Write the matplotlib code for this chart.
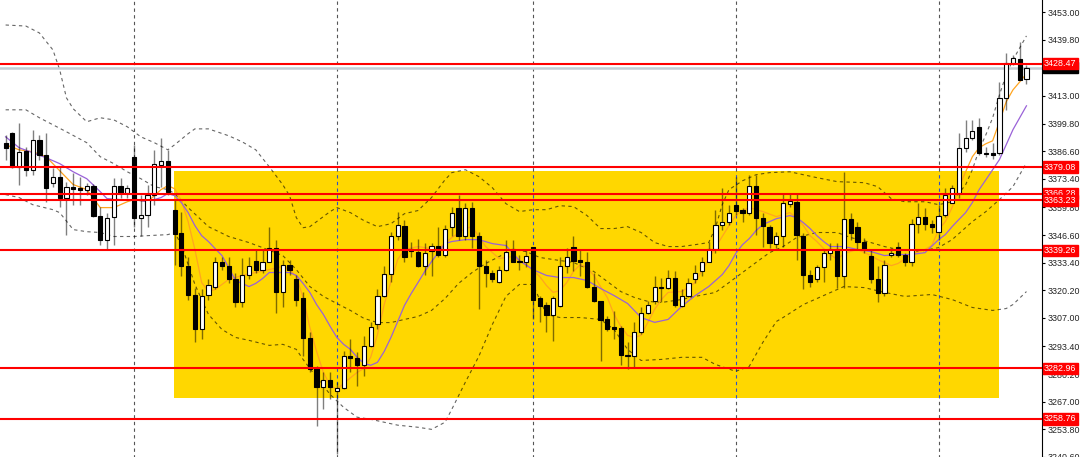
import matplotlib
matplotlib.use("Agg")
import matplotlib.pyplot as plt
from matplotlib.patches import Rectangle
import matplotlib.transforms as mtransforms
import numpy as np

plt.rcParams["font.family"] = ["Liberation Sans", "DejaVu Sans"]

############################## candle data (H4) ###############################
opens = [3390.7, 3395.4, 3379.2, 3386.9, 3377.8, 3392.1, 3385.0, 3371.6, 3374.5, 3364.5,
         3369.7, 3369.2, 3368.3, 3370.2, 3355.9, 3344.4, 3355.4, 3370.2, 3366.8, 3384.0,
         3354.9, 3356.3, 3365.9, 3380.2, 3382.1, 3358.7, 3347.8, 3332.0, 3318.2, 3301.5,
         3318.2, 3322.0, 3333.9, 3331.6, 3325.4, 3314.4, 3327.7, 3334.4, 3330.1, 3333.9,
         3340.6, 3319.2, 3332.5, 3325.4, 3316.3, 3297.2, 3282.9, 3273.9, 3277.2, 3272.0,
         3273.4, 3288.7, 3287.7, 3284.4, 3293.4, 3303.9, 3317.3, 3328.2, 3345.9, 3351.1,
         3340.1, 3338.7, 3331.6, 3339.2, 3341.6, 3337.3, 3350.2, 3359.7, 3345.9, 3359.7,
         3345.9, 3332.0, 3328.7, 3324.4, 3330.1, 3339.7, 3334.4, 3333.5, 3341.1, 3316.3,
         3313.0, 3308.2, 3312.5, 3332.0, 3341.1, 3334.9, 3333.9, 3322.0, 3314.9, 3306.3,
         3302.5, 3302.0, 3289.1, 3288.7, 3300.1, 3309.6, 3314.9, 3322.0, 3321.1, 3326.3,
         3312.5, 3317.3, 3325.8, 3329.2, 3333.9, 3339.7, 3351.6, 3353.0, 3361.1, 3358.7,
         3357.3, 3370.2, 3354.9, 3350.6, 3342.5, 3346.3, 3361.6, 3362.5, 3346.3, 3327.7,
         3325.8, 3331.1, 3338.2, 3339.7, 3326.8, 3354.4, 3350.6, 3343.5, 3336.8, 3325.4,
         3318.7, 3337.3, 3341.1, 3337.3, 3333.5, 3352.1, 3355.4, 3352.1, 3348.2, 3356.3,
         3362.1, 3366.8, 3388.3, 3393.1, 3398.3, 3385.9, 3385.9, 3385.9, 3412.1, 3428.8,
         3430.7, 3421.2]
highs = [3394.5, 3395.9, 3400.2, 3388.8, 3396.9, 3394.5, 3395.4, 3378.8, 3379.2, 3372.1,
         3376.4, 3374.5, 3371.6, 3371.1, 3360.2, 3357.3, 3374.0, 3374.0, 3370.7, 3389.7,
         3365.9, 3370.7, 3387.3, 3393.1, 3387.3, 3363.5, 3357.8, 3336.3, 3321.5, 3320.6,
         3325.4, 3336.3, 3335.9, 3336.3, 3328.7, 3335.4, 3336.3, 3339.7, 3339.7, 3350.2,
         3344.4, 3334.9, 3334.9, 3327.7, 3319.6, 3300.1, 3283.9, 3281.0, 3281.0, 3276.3,
         3291.0, 3296.8, 3290.6, 3298.2, 3304.9, 3320.6, 3331.6, 3348.2, 3357.8, 3354.0,
         3343.5, 3344.9, 3343.0, 3343.0, 3350.6, 3351.6, 3360.2, 3365.9, 3362.1, 3362.5,
         3348.2, 3334.9, 3329.7, 3331.6, 3344.4, 3344.4, 3337.3, 3339.7, 3341.1, 3317.3,
         3314.4, 3317.3, 3335.9, 3340.6, 3345.9, 3339.7, 3338.7, 3328.7, 3314.9, 3307.7,
         3310.1, 3303.0, 3295.3, 3304.9, 3312.0, 3314.9, 3326.8, 3326.3, 3330.1, 3329.2,
         3320.6, 3326.3, 3332.5, 3336.3, 3343.5, 3358.7, 3369.2, 3361.1, 3374.5, 3359.7,
         3375.4, 3375.4, 3357.3, 3351.6, 3348.2, 3366.8, 3366.8, 3366.8, 3347.8, 3330.1,
         3332.5, 3339.7, 3343.0, 3343.0, 3376.8, 3357.3, 3353.0, 3345.4, 3339.7, 3331.6,
         3334.9, 3340.6, 3343.5, 3338.2, 3354.4, 3362.1, 3359.7, 3354.0, 3361.1, 3369.2,
         3370.7, 3395.4, 3401.6, 3401.6, 3402.6, 3388.8, 3390.7, 3419.7, 3433.6, 3432.6,
         3438.8, 3427.9]
lows = [3382.6, 3378.8, 3370.7, 3374.9, 3375.4, 3382.6, 3362.5, 3369.7, 3360.2, 3346.8,
        3361.1, 3361.1, 3365.9, 3355.4, 3342.0, 3339.7, 3342.0, 3364.5, 3364.5, 3350.6,
        3345.9, 3350.6, 3361.1, 3369.7, 3365.9, 3332.5, 3326.8, 3315.8, 3295.3, 3296.8,
        3315.8, 3320.6, 3330.1, 3323.9, 3312.0, 3312.0, 3325.4, 3328.7, 3328.7, 3333.5,
        3309.6, 3312.0, 3327.7, 3312.5, 3288.7, 3281.0, 3255.3, 3263.4, 3268.2, 3241.9,
        3272.9, 3281.0, 3274.4, 3279.1, 3292.9, 3301.5, 3316.8, 3324.4, 3344.4, 3333.9,
        3336.3, 3331.1, 3327.7, 3326.8, 3336.3, 3336.3, 3345.9, 3344.4, 3344.4, 3340.6,
        3311.1, 3322.0, 3324.4, 3323.5, 3329.2, 3333.5, 3330.1, 3331.1, 3306.3, 3304.9,
        3300.1, 3295.8, 3312.0, 3328.7, 3329.2, 3326.8, 3321.5, 3314.4, 3286.3, 3300.6,
        3296.8, 3284.4, 3282.5, 3283.4, 3299.1, 3308.7, 3313.9, 3314.4, 3320.6, 3312.0,
        3312.0, 3316.8, 3323.9, 3326.8, 3333.5, 3338.2, 3349.2, 3351.6, 3356.3, 3353.0,
        3356.3, 3346.8, 3341.1, 3340.6, 3340.6, 3341.1, 3360.2, 3334.9, 3320.6, 3322.0,
        3324.4, 3324.4, 3334.9, 3321.5, 3321.5, 3344.4, 3339.7, 3338.2, 3323.9, 3314.4,
        3317.3, 3335.9, 3335.9, 3331.6, 3331.6, 3347.8, 3349.2, 3347.8, 3344.4, 3355.4,
        3362.1, 3364.5, 3386.4, 3392.1, 3385.0, 3384.0, 3383.0, 3385.0, 3406.4, 3427.9,
        3420.7, 3418.8]
closes = [3388.3, 3379.2, 3386.4, 3377.8, 3392.1, 3385.0, 3369.2, 3374.5, 3364.5, 3369.7,
          3368.7, 3368.3, 3370.2, 3355.9, 3344.4, 3354.9, 3370.2, 3366.8, 3369.2, 3354.9,
          3356.3, 3365.9, 3380.7, 3382.1, 3367.3, 3347.3, 3331.6, 3318.2, 3301.5, 3317.7,
          3322.5, 3333.9, 3331.6, 3325.4, 3314.4, 3327.7, 3331.6, 3330.1, 3333.9, 3340.6,
          3319.2, 3332.5, 3330.1, 3315.8, 3297.2, 3282.5, 3273.9, 3277.2, 3273.9, 3273.4,
          3288.7, 3287.7, 3284.4, 3293.4, 3302.5, 3317.3, 3328.2, 3345.9, 3351.6, 3336.3,
          3339.2, 3331.6, 3338.2, 3341.6, 3337.3, 3349.7, 3357.3, 3345.9, 3359.7, 3345.9,
          3331.6, 3328.7, 3325.8, 3330.1, 3338.7, 3333.9, 3333.5, 3336.8, 3315.8, 3312.5,
          3308.2, 3316.3, 3332.0, 3335.9, 3334.4, 3333.5, 3322.0, 3314.9, 3305.8, 3301.5,
          3301.5, 3289.1, 3288.7, 3300.1, 3309.6, 3313.4, 3322.0, 3321.5, 3326.3, 3313.4,
          3317.3, 3323.9, 3328.7, 3333.9, 3339.7, 3351.6, 3353.0, 3357.3, 3358.3, 3357.3,
          3370.2, 3354.9, 3351.1, 3343.0, 3346.3, 3362.1, 3363.0, 3346.8, 3327.7, 3324.4,
          3331.1, 3338.2, 3340.1, 3326.8, 3354.4, 3347.8, 3343.5, 3339.7, 3325.4, 3318.7,
          3332.5, 3338.2, 3337.3, 3333.5, 3352.1, 3355.4, 3352.1, 3350.6, 3355.9, 3365.9,
          3369.2, 3388.3, 3393.1, 3396.4, 3385.9, 3385.4, 3385.0, 3412.1, 3428.8, 3431.2,
          3420.7, 3426.4]

# moving averages (bar index, price)
fast_idx = [0, 2, 4, 6, 8, 10, 12, 14, 16, 18, 19, 21, 22, 23, 24, 25, 26, 27, 28, 29,
            30, 31, 33, 35, 37, 39, 41, 42, 43, 44, 45, 46, 47, 48, 49, 50, 52, 53, 54, 55,
            56, 57, 58, 59, 61, 63, 64, 66, 68, 69, 70, 71, 73, 75, 77, 78, 79, 80, 81, 82,
            83, 84, 85, 86, 87, 88, 89, 90, 91, 92, 93, 94, 95, 96, 97, 98, 100, 102, 103, 104,
            105, 106, 107, 108, 109, 110, 112, 114, 116, 117, 118, 119, 120, 121, 122, 123, 124, 126, 128, 129,
            131, 132, 134, 136, 137, 138, 139, 140, 141, 142, 143, 144, 145, 146, 147, 148, 149, 150, 151]
fast_ma = [3389.7, 3387.3, 3386.4, 3384.0, 3377.3, 3370.7, 3368.3, 3359.7, 3359.7, 3362.5,
           3363.5, 3362.5, 3365.4, 3368.3, 3370.2, 3368.7, 3363.0, 3353.0, 3339.7, 3323.9,
           3319.6, 3320.6, 3325.4, 3327.3, 3328.7, 3330.1, 3331.6, 3330.1, 3326.8, 3316.8,
           3302.5, 3291.0, 3281.0, 3274.8, 3272.9, 3275.8, 3281.0, 3282.9, 3288.2, 3299.1,
           3313.4, 3324.4, 3334.9, 3339.7, 3341.1, 3340.1, 3340.1, 3345.4, 3349.7, 3350.6,
           3345.9, 3341.1, 3335.4, 3336.3, 3332.5, 3329.7, 3326.8, 3322.5, 3319.2, 3320.1,
           3323.9, 3329.2, 3332.5, 3331.1, 3327.3, 3322.0, 3316.8, 3308.7, 3303.0, 3298.7,
           3297.7, 3298.7, 3304.9, 3311.1, 3315.8, 3319.2, 3319.6, 3323.9, 3329.7, 3334.9,
           3340.6, 3345.9, 3351.1, 3355.9, 3358.3, 3359.7, 3357.8, 3355.4, 3357.3, 3354.9,
           3351.1, 3346.3, 3343.5, 3340.1, 3337.3, 3334.9, 3337.8, 3339.7, 3336.8, 3334.9,
           3332.0, 3333.0, 3337.3, 3339.7, 3341.6, 3349.2, 3353.0, 3359.7, 3369.2, 3376.8,
           3384.0, 3388.3, 3390.2, 3391.6, 3400.7, 3410.2, 3415.9, 3419.7, 3423.6]
slow_idx = [0, 2, 4, 6, 8, 10, 12, 14, 15, 17, 19, 21, 23, 24, 25, 26, 27, 28, 29, 30,
            31, 32, 33, 34, 35, 36, 37, 38, 39, 41, 42, 43, 44, 45, 46, 47, 48, 49, 50, 51,
            52, 53, 54, 55, 56, 57, 58, 59, 60, 61, 62, 63, 64, 65, 66, 68, 70, 72, 74, 76,
            78, 80, 82, 84, 86, 88, 90, 92, 94, 96, 98, 100, 102, 104, 106, 107, 108, 109, 110, 111,
            112, 114, 116, 117, 118, 119, 120, 121, 122, 124, 126, 128, 130, 132, 134, 136, 138, 139, 140, 141,
            142, 143, 144, 145, 146, 147, 148, 149, 150, 151]
slow_ma = [3393.5, 3388.3, 3385.9, 3383.5, 3380.7, 3376.8, 3373.5, 3367.3, 3364.0, 3363.5,
           3363.5, 3362.5, 3364.5, 3366.4, 3365.4, 3362.1, 3357.3, 3351.1, 3346.3, 3343.5,
           3340.1, 3336.8, 3331.1, 3324.9, 3323.5, 3322.0, 3323.5, 3325.8, 3328.7, 3328.7,
           3328.7, 3327.3, 3323.5, 3319.2, 3313.4, 3308.7, 3303.0, 3297.7, 3294.4, 3292.0,
           3288.2, 3285.3, 3284.4, 3285.8, 3291.0, 3297.7, 3305.3, 3313.0, 3318.7, 3323.9,
           3329.2, 3333.9, 3338.2, 3342.5, 3343.5, 3344.4, 3344.4, 3342.5, 3341.6, 3334.4,
           3330.1, 3327.3, 3326.3, 3326.3, 3324.9, 3321.1, 3317.7, 3313.9, 3307.2, 3304.9,
           3306.3, 3312.5, 3317.7, 3322.0, 3327.7, 3332.0, 3337.8, 3342.0, 3344.9, 3348.7,
           3351.6, 3354.4, 3355.9, 3354.9, 3352.5, 3349.7, 3346.3, 3343.5, 3341.1, 3341.1,
           3339.7, 3338.7, 3336.8, 3337.3, 3337.3, 3338.2, 3344.4, 3346.8, 3350.6, 3354.0,
           3357.3, 3362.1, 3368.3, 3373.0, 3377.8, 3382.6, 3389.7, 3396.9, 3402.6, 3408.3]

# bollinger-style envelope (upper / middle / lower)
bb_up_idx = [0, 3, 5, 7, 8, 9, 10, 12, 14, 16, 18, 20, 22, 24, 25, 27, 28, 30, 33, 35,
             37, 39, 41, 42, 43, 44, 45, 46, 48, 49, 51, 53, 55, 57, 59, 61, 63, 65, 66, 68,
             70, 72, 74, 76, 78, 80, 82, 84, 86, 88, 90, 92, 94, 96, 98, 100, 102, 104, 105, 106,
             107, 109, 111, 113, 116, 120, 123, 127, 129, 131, 133, 136, 138, 140, 142, 143, 144, 145, 146, 147,
             148, 149, 151]
bb_up = [3446.9, 3446.4, 3443.1, 3435.0, 3425.5, 3412.1, 3406.9, 3400.7, 3402.6, 3401.6,
         3398.3, 3393.5, 3390.7, 3387.3, 3389.7, 3395.0, 3397.3, 3397.3, 3394.0, 3391.1,
         3387.3, 3379.2, 3370.6, 3365.4, 3354.9, 3350.1, 3350.6, 3353.0, 3357.8, 3359.7,
         3357.3, 3353.5, 3350.6, 3352.0, 3356.8, 3358.3, 3364.5, 3373.0, 3376.4, 3377.8,
         3374.5, 3369.2, 3361.6, 3357.8, 3358.7, 3358.7, 3360.6, 3360.2, 3355.9, 3349.7,
         3349.7, 3350.6, 3347.8, 3343.0, 3341.1, 3341.1, 3342.0, 3343.0, 3350.1, 3361.1,
         3368.3, 3372.5, 3375.4, 3376.4, 3376.8, 3374.0, 3372.1, 3371.6, 3369.7, 3364.0,
         3362.5, 3362.5, 3361.1, 3362.5, 3370.6, 3377.8, 3387.3, 3394.5, 3402.6, 3413.5,
         3423.1, 3430.2, 3441.7]
bb_mid_idx = [0, 3, 5, 9, 12, 14, 16, 18, 20, 22, 24, 25, 27, 30, 33, 36, 38, 41, 43, 45,
              47, 49, 51, 53, 55, 57, 59, 61, 63, 65, 67, 69, 71, 73, 75, 77, 79, 81, 84, 87,
              89, 91, 93, 95, 97, 100, 102, 105, 107, 109, 111, 113, 115, 117, 120, 123, 125, 128, 130, 132,
              135, 138, 140, 143, 145, 147, 149, 151]
bb_mid = [3406.4, 3406.4, 3402.6, 3395.9, 3390.7, 3384.0, 3380.7, 3376.8, 3373.5, 3369.7,
          3368.3, 3366.4, 3359.7, 3350.6, 3345.9, 3343.0, 3340.6, 3336.8, 3330.1, 3322.0,
          3317.3, 3313.9, 3310.6, 3306.8, 3304.8, 3304.8, 3306.3, 3307.7, 3310.6, 3316.3,
          3323.5, 3328.7, 3333.0, 3336.3, 3339.7, 3338.7, 3335.9, 3334.9, 3333.5, 3329.2,
          3324.4, 3319.6, 3316.8, 3314.9, 3314.4, 3315.8, 3317.3, 3319.2, 3323.9, 3328.7,
          3333.5, 3338.2, 3341.1, 3345.4, 3347.8, 3347.8, 3345.4, 3343.0, 3341.1, 3339.7,
          3338.7, 3340.6, 3344.4, 3353.0, 3357.8, 3363.5, 3369.7, 3381.1]
bb_low_idx = [0, 2, 4, 7, 8, 10, 12, 14, 16, 19, 21, 24, 25, 26, 28, 30, 32, 34, 36, 39,
              41, 43, 44, 46, 48, 50, 52, 54, 56, 58, 61, 63, 65, 66, 68, 70, 72, 74, 76, 78,
              79, 80, 82, 85, 88, 90, 92, 94, 97, 100, 103, 105, 108, 110, 112, 114, 115, 118, 121, 124,
              127, 130, 133, 137, 140, 143, 146, 148, 149, 151]
bb_low = [3365.9, 3364.5, 3361.1, 3358.7, 3357.3, 3349.2, 3348.2, 3347.8, 3345.9, 3345.9,
          3346.3, 3346.8, 3347.8, 3342.0, 3323.0, 3308.7, 3301.5, 3297.7, 3296.3, 3293.9,
          3294.4, 3292.0, 3287.2, 3278.6, 3270.5, 3264.3, 3259.6, 3258.6, 3257.2, 3255.8,
          3254.8, 3253.8, 3257.2, 3263.4, 3276.3, 3288.7, 3303.9, 3317.3, 3323.0, 3323.0,
          3315.8, 3308.7, 3307.2, 3307.2, 3306.3, 3301.5, 3292.0, 3286.7, 3287.2, 3288.2,
          3288.2, 3284.8, 3281.5, 3283.9, 3295.3, 3305.3, 3307.2, 3313.4, 3317.7, 3322.0,
          3321.5, 3319.2, 3317.3, 3318.2, 3315.8, 3312.0, 3310.6, 3311.5, 3313.4, 3319.6]

# horizontal levels, price scale, weekly separators, zone
levels = [3428.47, 3379.08, 3366.28, 3363.23, 3339.26, 3282.96, 3258.76]
level_labels = ["3428.47", "3379.08", "3366.28", "3363.23", "3339.26", "3282.96", "3258.76"]
price_ticks = [3453.00, 3439.80, 3413.00, 3399.80, 3386.60, 3373.40, 3359.80,
               3346.60, 3333.40, 3320.20, 3307.00, 3293.40, 3280.20, 3267.00, 3253.80, 3240.60]
separators = [19, 49, 78, 108, 138]
zone_left, zone_right = 24.9, 146.9
zone_low, zone_high = 3269.0, 3377.2
bid = 3426.43

############################## drawing ########################################
fig = plt.figure(figsize=(10.8, 4.57), dpi=100)
ax = fig.add_axes([0, 0, 1042 / 1080, 1])
ax.set_xlim(-0.83, 153.3)
ax.set_ylim(3240.97, 3458.84)

ax.add_patch(Rectangle((zone_left, zone_low), zone_right - zone_left, zone_high - zone_low,
                       facecolor="#ffd700", edgecolor="none", zorder=0))

# period separators (they look blue where they cross the zone)
sep_style = dict(linestyles=(0, (3, 3)), lw=0.8, zorder=1)
for s in separators:
    if zone_left < s < zone_right:
        ax.vlines(s, zone_low, zone_high, colors="#3050c8", **sep_style)
        ax.vlines(s, zone_high, 3470, colors="#555555", **sep_style)
        ax.vlines(s, 3230, zone_low, colors="#555555", **sep_style)
    else:
        ax.vlines(s, 3230, 3470, colors="#555555", **sep_style)

band_style = dict(color="black", alpha=0.6, lw=0.8, linestyle=(0, (3, 3)), zorder=2)
ax.plot(bb_up_idx, bb_up, **band_style)
ax.plot(bb_mid_idx, bb_mid, **band_style)
ax.plot(bb_low_idx, bb_low, **band_style)

ax.plot(fast_idx, fast_ma, color="#ffa520", lw=0.9, zorder=2)
ax.plot(slow_idx, slow_ma, color="#9a62d8", lw=0.9, zorder=2)

o = np.array(opens); h = np.array(highs); l = np.array(lows); c = np.array(closes)
idx = np.arange(len(o))
ax.vlines(idx, l, h, colors="black", alpha=0.5, lw=1.0, zorder=3)
up = c >= o
body_lo = np.minimum(o, c)
body_h = np.maximum(np.abs(c - o), 0.35)
ax.bar(idx[up], body_h[up], bottom=body_lo[up], width=0.62, color="white",
       edgecolor="black", linewidth=0.8, zorder=4)
ax.bar(idx[~up], body_h[~up], bottom=body_lo[~up], width=0.62, color="black",
       edgecolor="black", linewidth=0.8, zorder=4)

ax.axhline(bid, color="#c4ccd4", lw=1.8, zorder=2)
for lv in levels:
    ax.axhline(lv, color="#ff0000", lw=1.5, zorder=5)

# right price scale
for sp in ["top", "left", "bottom"]:
    ax.spines[sp].set_visible(False)
ax.spines["right"].set_color("black")
ax.spines["right"].set_linewidth(0.8)
ax.set_xticks([])
ax.yaxis.tick_right()
ax.set_yticks(price_ticks)
ax.set_yticklabels(["%.2f" % t for t in price_ticks])
ax.tick_params(axis="y", direction="out", length=2.5, width=0.8, pad=1.5, labelsize=6.4,
               colors="black", labelcolor="#222222")

tr = mtransforms.blended_transform_factory(ax.transAxes, ax.transData)
ax.text(1.002, bid, "%.2f" % bid, transform=tr, fontsize=6.4, color="white", va="center",
        ha="left", clip_on=False, zorder=6,
        bbox=dict(boxstyle="square,pad=0.12", fc="black", ec="black"))
for lv, txt in zip(levels, level_labels):
    ax.text(1.002, lv, txt, transform=tr, fontsize=6.4, color="white", va="center", ha="left",
            clip_on=False, zorder=7, bbox=dict(boxstyle="square,pad=0.12", fc="#ff0000", ec="#ff0000"))

fig.savefig("out.png", dpi=100)
